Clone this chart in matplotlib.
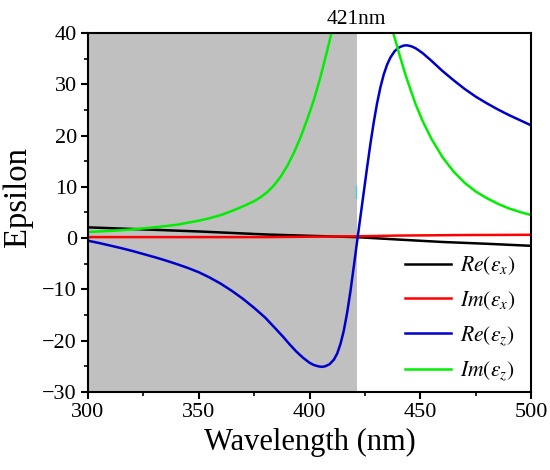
import matplotlib
matplotlib.use("Agg")
import matplotlib.pyplot as plt

# values
re_x_wl = [300, 325, 350, 381, 400, 421, 441, 460, 480, 500]
re_x = [2.1, 1.7, 1.3, 0.7, 0.45, 0.2, -0.3, -0.75, -1.1, -1.5]

im_x_wl = [300, 380, 421, 440, 470, 500]
im_x = [0.2, 0.2, 0.35, 0.5, 0.6, 0.65]

re_z_wl = [300, 305, 310, 315, 320, 325, 330, 335, 340, 345, 350, 355, 360,
           365, 370, 375, 380, 385, 388, 391, 394, 397, 400, 402, 404, 405.5,
           407, 409, 411, 412.5, 414, 415.5, 417, 418.5, 420, 421.5, 423,
           424.5, 426, 427.5, 429, 430.5, 432, 433.5, 435, 436.5, 438.5, 440.5,
           442.5, 444, 446, 448, 451, 455, 460, 465, 470, 475, 480, 485, 490,
           495, 500]
re_z = [-0.5, -0.95, -1.45, -1.95, -2.5, -3.1, -3.7, -4.35, -5.05, -5.8, -6.65,
        -7.7, -8.9, -10.3, -11.85, -13.6, -15.5, -17.8, -19.2, -20.7, -22.1,
        -23.3, -24.3, -24.75, -25.0, -25.1, -25.0, -24.6, -23.7, -22.5, -20.6,
        -18.0, -14.5, -10.3, -5.5, -0.6, 4.2, 9.0, 13.8, 18.4, 22.6, 26.3,
        29.4, 31.9, 33.8, 35.2, 36.5, 37.2, 37.55, 37.6, 37.4, 37.0, 36.1,
        34.6, 32.6, 30.8, 29.1, 27.6, 26.3, 25.1, 24.0, 23.0, 22.0]

im_z_wl = [300, 310, 320, 330, 340, 345, 350, 355, 360, 365, 370, 375, 378,
           381, 384, 387, 390, 393, 396, 399, 402, 405, 408, 410, 412, 415,
           418, 421, 424, 428, 431, 434, 437, 439, 441, 443, 445, 448, 451,
           455, 460, 465, 470, 475, 480, 485, 490, 495, 500]
im_z = [1.2, 1.4, 1.7, 2.1, 2.6, 3.0, 3.4, 3.9, 4.5, 5.3, 6.2, 7.2, 8.0, 9.0,
        10.3, 12.0, 14.1, 16.7, 19.7, 23.2, 27.0, 31.5, 36.6, 40.2, 44.0, 50.0,
        56.5, 61.0, 62.0, 56.0, 51.2, 46.2, 41.2, 38.2, 35.2, 32.3, 29.7, 26.0,
        22.9, 19.4, 15.8, 13.0, 10.8, 9.1, 7.8, 6.7, 5.8, 5.1, 4.5]

edge_wl = 421.5

plt.rcParams["font.family"] = ["Liberation Serif", "DejaVu Serif"]
plt.rcParams["mathtext.fontset"] = "stix"
plt.rcParams["xtick.direction"] = "out"
plt.rcParams["ytick.direction"] = "out"
plt.rcParams["xtick.major.width"] = 1.5
plt.rcParams["ytick.major.width"] = 1.5
plt.rcParams["xtick.minor.width"] = 1.2
plt.rcParams["ytick.minor.width"] = 1.2
plt.rcParams["xtick.major.size"] = 5
plt.rcParams["ytick.major.size"] = 5
plt.rcParams["xtick.minor.size"] = 3
plt.rcParams["ytick.minor.size"] = 3
plt.rcParams["xtick.major.pad"] = 3
plt.rcParams["ytick.major.pad"] = 3
plt.rcParams["axes.linewidth"] = 1.5

fig = plt.figure(figsize=(5.5, 4.7), dpi=100)
ax = fig.add_axes([0.16, 0.166, 0.8055, 0.7638])

ax.axvspan(300, edge_wl, color="#c0c0c0", lw=0, zorder=0)

ax.plot(re_x_wl, re_x, color="black", lw=1.8, label=r"$Re(\varepsilon_x)$")
ax.plot(im_x_wl, im_x, color="#ff0000", lw=1.8, label=r"$Im(\varepsilon_x)$")
ax.plot(re_z_wl, re_z, color="#0000cc", lw=1.8, label=r"$Re(\varepsilon_z)$")
ax.plot(im_z_wl, im_z, color="#00ee00", lw=1.8, label=r"$Im(\varepsilon_z)$")
ax.plot([edge_wl - 0.4, edge_wl - 0.4], [7.9, 10.2], color="#40d0e0", lw=1)

ax.set_xlim(300, 500)
ax.set_ylim(-30, 40)
ax.set_xticks([300, 350, 400, 450, 500])
ax.set_xticks([325, 375, 425, 475], minor=True)
ax.set_yticks(range(-30, 41, 10))
ax.set_yticks(range(-25, 40, 10), minor=True)
ax.set_yticklabels(["\u221230", "\u221220", "\u221210", "0", "10", "20", "30", "40"])
ax.tick_params(labelsize=16)

ax.set_xlabel("Wavelength (nm)", fontsize=22, labelpad=4)
ax.set_ylabel("Epsilon", fontsize=23.5, va="center")
ax.yaxis.set_label_coords(-0.158, 0.543)

ax.text(421, 40.8, "421nm", ha="center", va="bottom", fontsize=15.5)

ax.legend(loc="lower right", frameon=False, fontsize=15.5, handlelength=2.1,
          handletextpad=0.45, labelspacing=0.55, borderaxespad=0.0,
          bbox_to_anchor=(0.985, 0.0))

fig.savefig("out.png", dpi=100)
